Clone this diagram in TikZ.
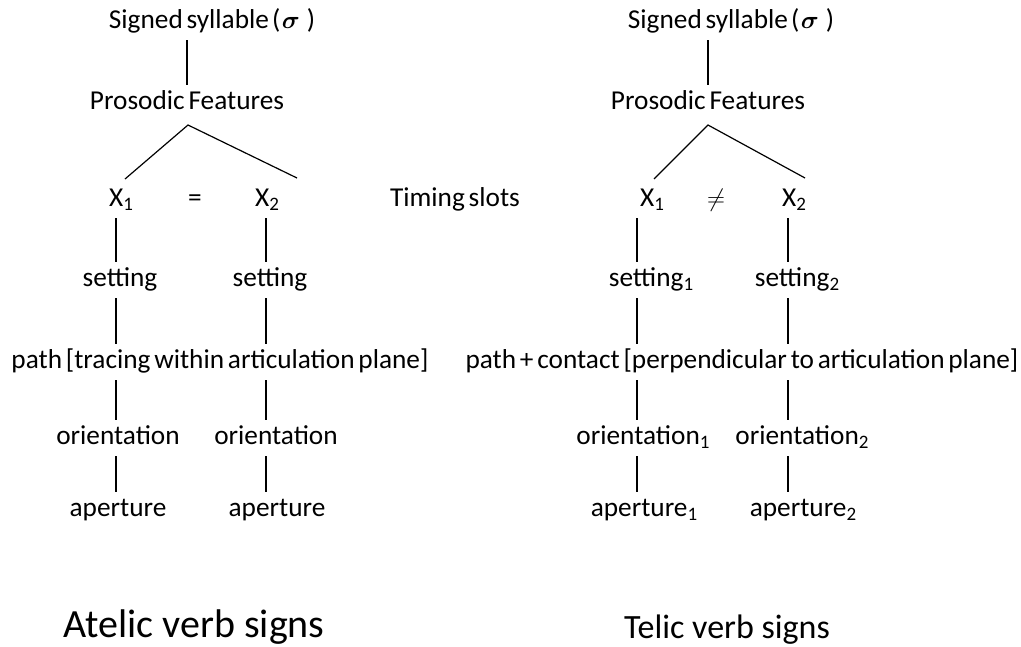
\documentclass[tikz,border=0pt]{standalone}
\usepackage{amsmath}
\usepackage{fontspec}
\setmainfont{Carlito}
\newcommand\treefont{\fontsize{27.3}{31}\selectfont\spaceskip=0.14em plus 0.05em\relax}
\newcommand\idx[1]{\raisebox{-0.32ex}{\fontsize{19}{20}\selectfont #1}}
\begin{document}
\begin{tikzpicture}[x=1pt,y=-1pt,
  lab/.style={font=\treefont,
    inner xsep=0pt, inner ysep=6pt, text height=18pt, text depth=6pt},
  title/.style={font=\fontsize{40}{44}\selectfont, inner sep=0pt},
  edge/.style={draw=black, line width=1.2pt}]
\useasboundingbox (0,0) rectangle (1021,646);

% ---- atelic tree ----
\node[lab] (sigL) at (212,22) {Signed syllable\hspace{0.12em}(\hspace{0.05em}$\boldsymbol{\sigma}$\hspace{0.25em})};
\node[lab] (prosL) at (187,103) {Prosodic Features};
\node[lab] (xL1) at (121,200) {X\idx{1}};
\node[lab] (eqL) at (195,200) {=};
\node[lab] (xL2) at (267,200) {X\idx{2}};
\node[lab] (timing) at (455,200) {Timing slots};
\node[lab] (setL1) at (120,280) {setting};
\node[lab] (setL2) at (270,280) {setting};
\node[lab] (pathL) at (220,362) {path [tracing within articulation plane]};
\node[lab] (oriL1) at (118,438) {orientation};
\node[lab] (oriL2) at (276,438) {orientation};
\node[lab] (apL1) at (118,510) {aperture};
\node[lab] (apL2) at (277,510) {aperture};
\node[title] (atelic) at (194,627) {Atelic verb signs};

\coordinate (colA) at (116,0);
\coordinate (colB) at (266,0);
\coordinate (topL) at (188,125);
\coordinate (endL1) at (125,179);
\coordinate (endL2) at (297,178);

\draw[edge] (sigL.south -| prosL.north) -- (prosL.north);
\draw[edge] (endL1) -- (topL) -- (endL2);
\foreach \c/\n in {A/1,B/2}{
  \draw[edge] (xL\n.south -| col\c) -- (setL\n.north -| col\c);
  \draw[edge] (setL\n.south -| col\c) -- (pathL.north -| col\c);
  \draw[edge] (pathL.south -| col\c) -- (oriL\n.north -| col\c);
  \draw[edge] (oriL\n.south -| col\c) -- (apL\n.north -| col\c);
}

% ---- telic tree ----
\node[lab] (sigR) at (731,22) {Signed syllable\hspace{0.12em}(\hspace{0.05em}$\boldsymbol{\sigma}$\hspace{0.25em})};
\node[lab] (prosR) at (708,103) {Prosodic Features};
\node[lab] (xR1) at (652,200) {X\idx{1}};
\node[lab] (neqR) at (716,200) {$\neq$};
\node[lab] (xR2) at (794,200) {X\idx{2}};
\node[lab] (setR1) at (651,280) {setting\idx{1}};
\node[lab] (setR2) at (797,280) {setting\idx{2}};
\node[lab] (pathR) at (742,362) {path + contact [perpendicular to articulation plane]};
\node[lab] (oriR1) at (643,438) {orientation\idx{1}};
\node[lab] (oriR2) at (802,438) {orientation\idx{2}};
\node[lab] (apR1) at (644,510) {aperture\idx{1}};
\node[lab] (apR2) at (803,510) {aperture\idx{2}};
\node[title, font=\fontsize{34}{38}\selectfont] (telic) at (727,630) {Telic verb signs};

\coordinate (colC) at (637,0);
\coordinate (colD) at (788,0);
\coordinate (topR) at (708,125);
\coordinate (endR1) at (654,179);
\coordinate (endR2) at (805,178);

\draw[edge] (sigR.south -| prosR.north) -- (prosR.north);
\draw[edge] (endR1) -- (topR) -- (endR2);
\foreach \c/\n in {C/1,D/2}{
  \draw[edge] (xR\n.south -| col\c) -- (setR\n.north -| col\c);
  \draw[edge] (setR\n.south -| col\c) -- (pathR.north -| col\c);
  \draw[edge] (pathR.south -| col\c) -- (oriR\n.north -| col\c);
  \draw[edge] (oriR\n.south -| col\c) -- (apR\n.north -| col\c);
}
\end{tikzpicture}
\end{document}
